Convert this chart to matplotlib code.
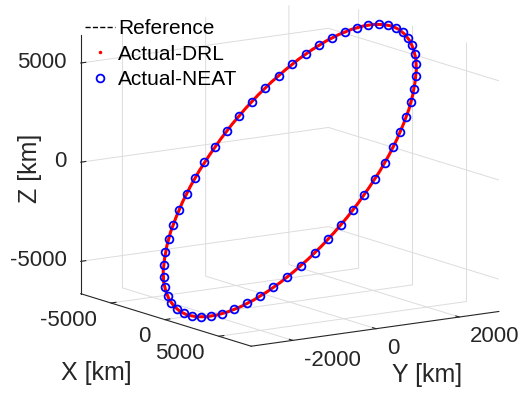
import numpy as np
import matplotlib
matplotlib.use('Agg')
import matplotlib.pyplot as plt
from mpl_toolkits.mplot3d import proj3d
from matplotlib.lines import Line2D

plt.rcParams['font.family'] = ['Liberation Sans', 'DejaVu Sans']
plt.rcParams['axes.unicode_minus'] = False

# ---------------- data (km) ----------------
neat_x = [-1100, -350, 410, 1160, 1900, 2610, 3300, 3940, 4540, 5090, 5580, 6000, 6350, 6630, 6830,
          6950, 6980, 6940, 6810, 6610, 6330, 5970, 5540, 5050, 4500, 3890, 3240, 2560, 1840,
          1100, 350, -410, -1160, -1900, -2610, -3300, -3940, -4540, -5090, -5580, -6000, -6350, -6630,
          -6830, -6950, -6980, -6940, -6810, -6610, -6330, -5970, -5540, -5050, -4500, -3890, -3240,
          -2560, -1840]
neat_y = [2420, 2440, 2440, 2410, 2350, 2260, 2150, 2010, 1850, 1670, 1460, 1240, 1010, 760, 510,
          250, -20, -280, -540, -800, -1040, -1280, -1490, -1700, -1880, -2030, -2170, -2280, -2360,
          -2420, -2440, -2440, -2410, -2350, -2260, -2150, -2010, -1850, -1670, -1460, -1240, -1010,
          -760, -510, -250, 20, 280, 540, 800, 1040, 1280, 1490, 1700, 1880, 2030, 2170, 2280, 2360]
neat_z = [6480, 6560, 6550, 6470, 6320, 6090, 5790, 5420, 4980, 4490, 3950, 3360, 2730, 2070, 1380,
          680, -30, -740, -1440, -2130, -2790, -3410, -4000, -4540, -5020, -5450, -5820, -6110, -6330,
          -6480, -6560, -6550, -6470, -6320, -6090, -5790, -5420, -4980, -4490, -3950, -3360, -2730,
          -2070, -1380, -680, 30, 740, 1440, 2130, 2790, 3410, 4000, 4540, 5020, 5450, 5820, 6110, 6330]

drl_x = [-720, 30, 790, 1530, 2260, 2960, 3630, 4250, 4820, 5340, 5800, 6180, 6500, 6740, 6900,
         6980, 6970, 6890, 6720, 6480, 6160, 5760, 5300, 4780, 4200, 3570, 2910, 2200, 1470,
         720, -30, -790, -1530, -2260, -2960, -3630, -4250, -4820, -5340, -5800, -6180, -6500, -6740,
         -6900, -6980, -6970, -6890, -6720, -6480, -6160, -5760, -5300, -4780, -4200, -3570, -2910,
         -2200, -1470, -720]
drl_y = [2430, 2450, 2430, 2380, 2310, 2210, 2090, 1940, 1760, 1570, 1360, 1130, 890, 640, 380,
         110, -150, -410, -670, -920, -1160, -1390, -1600, -1790, -1960, -2100, -2230, -2320, -2390,
         -2430, -2450, -2430, -2380, -2310, -2210, -2090, -1940, -1760, -1570, -1360, -1130, -890,
         -640, -380, -110, 150, 410, 670, 920, 1160, 1390, 1600, 1790, 1960, 2100, 2230, 2320, 2390,
         2430]
drl_z = [6530, 6570, 6520, 6400, 6210, 5940, 5610, 5210, 4740, 4230, 3660, 3050, 2400, 1730, 1030,
         320, -390, -1090, -1790, -2460, -3100, -3710, -4280, -4790, -5250, -5640, -5970, -6230, -6420,
         -6530, -6570, -6520, -6400, -6210, -5940, -5610, -5210, -4740, -4230, -3660, -3050, -2400,
         -1730, -1030, -320, 390, 1090, 1790, 2460, 3100, 3710, 4280, 4790, 5250, 5640, 5970, 6230,
         6420, 6530]

ref_x, ref_y, ref_z = drl_x, drl_y, drl_z

x_ticks = [-5000, 0, 5000]
y_ticks = [-2000, 0, 2000]
z_ticks = [-5000, 0, 5000]
x_lim = (-7800, 8000)
y_lim = (-3000, 2950)
z_lim = (-6630, 6430)
legend_labels = ['Reference', 'Actual-DRL', 'Actual-NEAT']

# ---------------- figure ----------------
W, H = 523, 393
FS_TICK, FS_LAB, FS_LEG = 16, 18, 15
DARK = '#262626'

fig = plt.figure(figsize=(W/100, H/100), dpi=100)
S = 380
ax = fig.add_axes([(W-S)/2/W, (H-S)/2/H, S/W, S/H], projection='3d', proj_type='ortho')
ax.view_init(elev=12, azim=-34)
ax.set_box_aspect((306, 300, 266))
ax.computed_zorder = False

ax.plot(ref_x, ref_y, ref_z, color='k', ls='--', lw=1, zorder=1)
ax.plot(drl_x, drl_y, drl_z, color='red', lw=2.2, zorder=2)
ax.plot(neat_x, neat_y, neat_z, ls='none', marker='o', mfc='none', mec='blue',
        ms=5.6, mew=1.3, zorder=3)

ax.set_xlim(*x_lim); ax.set_ylim(*y_lim); ax.set_zlim(*z_lim)
ax.set_xticks(x_ticks); ax.set_yticks(y_ticks); ax.set_zticks(z_ticks)
ax.zaxis.set_ticks_position('lower')
for axis in (ax.xaxis, ax.yaxis, ax.zaxis):
    axis.set_pane_color((1, 1, 1, 0))
    axis._axinfo['grid'].update(color='#dcdcdc', linewidth=0.7)
    axis._axinfo['tick'].update(inward_factor=0.0, outward_factor=0.25)
    axis.line.set_color(DARK)
    axis.line.set_linewidth(0.8)
ax.tick_params(labelsize=FS_TICK, colors=DARK)

# place the box so that its corners land where the reference has them
fig.canvas.draw()
def corners():
    M = ax.M
    pts = [(x_lim[0], y_lim[0], z_lim[0]), (x_lim[1], y_lim[0], z_lim[0]),
           (x_lim[1], y_lim[1], z_lim[0]), (x_lim[0], y_lim[0], z_lim[1]),
           (x_lim[0], y_lim[1], z_lim[0])]
    out = []
    for p in pts:
        x2, y2, _ = proj3d.proj_transform(*p, M)
        out.append(ax.transData.transform((x2, y2)))
    return np.array(out)
d0 = corners()
tgt = np.array([(80, 293), (250, 345), (500, 311), (80, 37), (330, 259)], float)
tgt[:, 1] = H - tgt[:, 1]
n = len(d0)
Amat = np.zeros((2*n, 3)); bvec = np.zeros(2*n)
Amat[0::2, 0] = d0[:, 0]; Amat[0::2, 1] = 1; bvec[0::2] = tgt[:, 0]
Amat[1::2, 0] = d0[:, 1]; Amat[1::2, 2] = 1; bvec[1::2] = tgt[:, 1]
sol, *_ = np.linalg.lstsq(Amat, bvec, rcond=None)
s, ox, oy = sol
pb = ax.get_position(original=False)
O0 = np.array([pb.x0*W, pb.y0*H]); S0 = pb.width*W
O1 = np.array([ox, oy]) + s*O0; S1 = s*S0
ax.set_position([O1[0]/W, O1[1]/H, S1/W, S1/H])
fig.canvas.draw()

# tick label offsets (fraction of box) -> pad
ax_pts = 72.0*(ax.bbox.width + ax.bbox.height)/fig.dpi
per = 48.0/ax_pts*0.08
def pad_for(f):
    return f/per - 8.0
ax.tick_params(axis='x', pad=pad_for(0.058))
ax.tick_params(axis='y', pad=pad_for(0.064))
ax.tick_params(axis='z', pad=pad_for(0.033))
fig.canvas.draw()
for l in ax.xaxis.get_ticklabels():
    l.set_ha('right'); l.set_va('center')
for l in ax.yaxis.get_ticklabels():
    l.set_ha('left'); l.set_va('center')
for l in ax.zaxis.get_ticklabels():
    l.set_ha('right'); l.set_va('center')

fig.text(96/W, 1-373/H, 'X [km]', ha='center', va='center', fontsize=FS_LAB, color=DARK)
fig.text(427/W, 1-375/H, 'Y [km]', ha='center', va='center', fontsize=FS_LAB, color=DARK)
fig.text(30/W, 1-168/H, 'Z [km]', ha='center', va='center', rotation=90, fontsize=FS_LAB, color=DARK)

handles = [Line2D([], [], color='k', ls='--', lw=1),
           Line2D([], [], color='red', ls='none', marker='.', ms=3),
           Line2D([], [], color='blue', ls='none', marker='o', mfc='none', ms=5.6, mew=1.3)]
fig.legend(handles, legend_labels, loc='upper left',
           bbox_to_anchor=(85/W, 1-19/H), frameon=False, fontsize=FS_LEG, borderpad=0,
           borderaxespad=0, handlelength=1.45, handletextpad=0.15, labelspacing=0.32,
           labelcolor='black')

fig.savefig('out.png', dpi=100)
